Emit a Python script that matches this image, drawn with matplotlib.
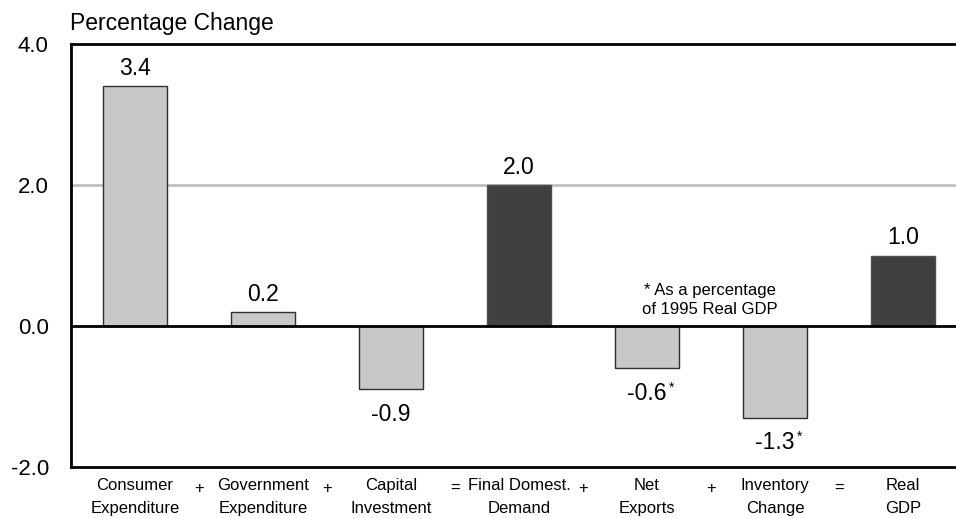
import matplotlib
matplotlib.use("Agg")
import matplotlib.pyplot as plt

plt.rcParams['font.family'] = ['Liberation Sans', 'DejaVu Sans']

categories = ["Consumer\nExpenditure", "Government\nExpenditure", "Capital\nInvestment",
              "Final Domest.\nDemand", "Net\nExports", "Inventory\nChange", "Real\nGDP"]
values = [3.4, 0.2, -0.9, 2.0, -0.6, -1.3, 1.0]
value_labels = ["3.4", "0.2", "-0.9", "2.0", "-0.6", "-1.3", "1.0"]
starred = [False, False, False, False, True, True, False]
is_total = [False, False, False, True, False, False, True]
operators = ["+", "+", "=", "+", "+", "="]
yticks = [-2.0, 0.0, 2.0, 4.0]

light = "#c8c8c8"
dark = "#404040"

fig = plt.figure(figsize=(9.56, 5.19), dpi=100)
ax = fig.add_axes([71 / 956, 1 - 467 / 519, 1 - 71 / 956 + 0.02, (467 - 44) / 519])

x = list(range(len(values)))
colors = [dark if t else light for t in is_total]
edges = ["#505050" if t else "#303030" for t in is_total]
ax.axhline(2.0, color="#c0c0c0", lw=2, zorder=0)
ax.bar(x, values, width=0.5, color=colors, edgecolor=edges, linewidth=1.0, zorder=2)
ax.axhline(0.0, color="black", lw=2, zorder=3)

ax.set_xlim(-0.5, -0.5 + (956 * 1.02 - 71) / 128)
ax.set_ylim(-2.0, 4.0)

ax.spines["right"].set_visible(False)
for sp in ["left", "top", "bottom"]:
    ax.spines[sp].set_linewidth(2)

ax.set_yticks(yticks)
ax.set_yticklabels([f"{v:.1f}" for v in yticks], fontsize=16)
ax.tick_params(axis="y", length=0, pad=16)
ax.set_xticks([])

labels = []
for xi, v, lab in zip(x, values, value_labels):
    y = v + 0.16 if v >= 0 else v - 0.45
    labels.append(ax.text(xi, y, lab, ha="center", va="baseline", fontsize=16.5))

# superscript asterisks sit just right of the value labels, raised to cap height
fig.canvas.draw()
renderer = fig.canvas.get_renderer()
inv = ax.transData.inverted()
for t, st in zip(labels, starred):
    if not st:
        continue
    bb = t.get_window_extent(renderer)
    x_px = bb.x1 + 2
    _, y_base = t.get_position()
    y_px = ax.transData.transform((0, y_base))[1] + 8.5
    sx, sy = inv.transform((x_px, y_px))
    ax.text(sx, sy, "*", ha="left", va="baseline", fontsize=10)

ax.text(4.49, 0.37, "* As a percentage\nof 1995 Real GDP", ha="center", va="center",
        fontsize=12, linespacing=1.3)

for xi, cat in zip(x, categories):
    ax.text(xi, -2.16, cat, ha="center", va="top", fontsize=12, linespacing=1.65)
for i, op in enumerate(operators):
    ax.text(i + 0.5, -2.3, op, ha="center", va="center", fontsize=12)

fig.text(70 / 956, 1 - 30 / 519, "Percentage Change", ha="left", va="baseline", fontsize=16.5)

fig.savefig("out.png", dpi=100)
